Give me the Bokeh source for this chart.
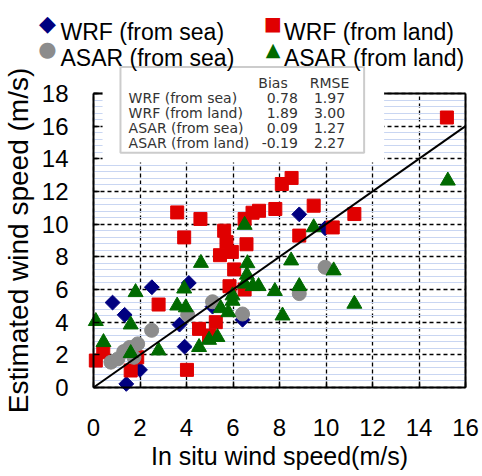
import numpy as np
from bokeh.plotting import figure
from bokeh.models import Range1d, FixedTicker, Label, BoxAnnotation, LinearAxis
from bokeh.embed import file_html
from bokeh.resources import INLINE

# ---------------- data ----------------
wrf_sea_x = [0.82, 1.34, 1.41, 2.00, 2.51, 3.70, 3.92, 4.10, 5.12, 6.41, 8.85, 9.96]
wrf_sea_y = [5.20, 4.45, 0.22, 1.08, 6.14, 3.85, 2.50, 6.40, 4.95, 4.15, 10.60, 9.75]

wrf_land_x = [0.10, 0.42, 1.60, 1.88, 2.80, 3.60, 3.90, 4.02, 4.60, 4.54, 4.97, 5.26,
              5.44, 5.62, 5.72, 5.95, 6.05, 5.85, 6.50, 6.58, 6.50, 6.84, 7.12, 7.82,
              8.10, 8.52, 8.85, 9.47, 10.29, 11.22, 15.20]
wrf_land_y = [1.65, 2.16, 1.04, 1.85, 5.08, 10.72, 9.19, 1.08, 10.32, 3.59, 3.18, 4.00,
              8.10, 9.60, 8.90, 8.30, 7.23, 6.20, 10.32, 8.77, 6.00, 10.70, 10.82, 10.93,
              12.46, 12.83, 9.30, 11.13, 9.80, 10.62, 16.53]

asar_sea_x = [0.75, 1.05, 1.30, 1.55, 1.74, 1.90, 2.50, 4.05, 5.12, 6.41, 8.85, 9.96]
asar_sea_y = [1.55, 1.75, 2.20, 2.45, 1.85, 2.67, 3.50, 4.45, 5.25, 4.50, 5.75, 7.36]

asar_land_x = [0.10, 0.43, 1.60, 1.60, 1.81, 2.80, 3.60, 3.90, 3.97, 4.54, 4.62, 4.97,
               5.33, 5.47, 5.80, 5.98, 5.98, 6.50, 6.62, 6.60, 6.50, 6.85, 7.10, 7.80,
               8.13, 8.50, 8.85, 9.47, 10.33, 11.22, 15.24]
asar_land_y = [4.06, 2.77, 2.10, 3.85, 5.83, 2.26, 5.01, 6.05, 4.90, 2.47, 7.62, 2.91,
               3.08, 4.85, 4.60, 5.30, 5.63, 9.95, 7.60, 6.90, 6.35, 6.20, 6.20, 5.90,
               4.40, 7.77, 6.20, 9.80, 7.16, 5.12, 12.66]

series_names = ["WRF (from sea)", "WRF (from land)", "ASAR (from sea)", "ASAR (from land)"]
table_bias = [0.78, 1.89, 0.09, -0.19]
table_rmse = [1.97, 3.00, 1.27, 2.27]

x_ticks = [0, 2, 4, 6, 8, 10, 12, 14, 16]
y_ticks = [0, 2, 4, 6, 8, 10, 12, 14, 16, 18]
one_to_one = [0, 16]
x_lim = (0, 16)
y_lim = (0, 18)

# ---------------- styles ----------------
NAVY = "#000080"
RED = "#e00000"
GRAY = "#8c8c8c"
GREEN = "#006a00"
FONT = "Liberation Sans"

W, H = 482, 476
# plot area (pixels) inside the canvas: left 93, right 465, top 93, bottom 387.
# The frame covers the whole canvas; axes are pinned at x=0 / y=0 so that the
# legend and the table above / left of the plot area are not clipped.
PX_X = (465 - 93) / (x_lim[1] - x_lim[0])
PX_Y = (387 - 93) / (y_lim[1] - y_lim[0])
X_START = x_lim[0] - 93 / PX_X
X_END = x_lim[1] + (W - 465) / PX_X
Y_END = y_lim[1] + 93 / PX_Y
Y_START = y_lim[0] - (H - 387) / PX_Y

p = figure(width=W, height=H, output_backend="svg", toolbar_location=None,
           x_range=Range1d(X_START, X_END), y_range=Range1d(Y_START, Y_END),
           min_border=0, min_border_left=0, min_border_right=0, min_border_top=0,
           min_border_bottom=0, background_fill_color="white")

p.outline_line_color = None

y_minor = [round(i * 0.4, 2) for i in range(0, 46) if i % 5 != 0]
p.xaxis.ticker = FixedTicker(ticks=x_ticks)
p.yaxis.ticker = FixedTicker(ticks=y_ticks, minor_ticks=y_minor)
p.xaxis.bounds = x_lim
p.yaxis.bounds = y_lim
p.xaxis.fixed_location = y_lim[0]
p.yaxis.fixed_location = x_lim[0]

for ax in (p.xaxis[0], p.yaxis[0]):
    ax.axis_line_width = 2
    ax.axis_line_color = "black"
    ax.major_tick_in = 6
    ax.major_tick_out = 0
    ax.major_tick_line_width = 1.5
    ax.minor_tick_line_color = None
    ax.major_label_text_font = FONT
    ax.major_label_text_font_size = "24px"
    ax.major_label_text_color = "black"
    ax.axis_label_text_font = FONT
    ax.axis_label_text_font_style = "normal"
    ax.axis_label_text_color = "black"

p.xaxis.axis_label = "In situ wind speed(m/s)"
p.xaxis.axis_label_text_font_size = "25px"
p.xaxis.major_label_standoff = 31
p.xaxis.axis_label_standoff = 3
p.yaxis.axis_label = "Estimated wind speed (m/s)"
p.yaxis.axis_label_text_font_size = "28px"
p.yaxis.major_label_standoff = 21
p.yaxis.axis_label_standoff = 5

# right border as a bare axis line
right_ax = LinearAxis(bounds=y_lim, fixed_location=x_lim[1], ticker=FixedTicker(ticks=[]),
                      axis_line_width=2, axis_line_color="black", major_tick_in=0,
                      major_tick_out=0, minor_tick_in=0, minor_tick_out=0,
                      major_label_standoff=0, major_label_text_font_size="0px")
p.add_layout(right_ax, "right")

p.xgrid.grid_line_color = "black"
p.xgrid.grid_line_dash = "4 3"
p.xgrid.grid_line_width = 1.3
p.xgrid.bounds = x_lim
p.xgrid.cross_bounds = y_lim
p.ygrid.grid_line_color = "black"
p.ygrid.grid_line_dash = "4 3"
p.ygrid.grid_line_width = 1.3
p.ygrid.bounds = y_lim
p.ygrid.cross_bounds = x_lim
p.ygrid.minor_grid_line_color = "#c9d6f2"
p.ygrid.minor_grid_line_width = 1

# top border
p.line(list(x_lim), [y_lim[1], y_lim[1]], line_color="black", line_width=2)

# ---------------- series ----------------
p.scatter(wrf_sea_x, wrf_sea_y, marker="square", angle=np.pi / 4, size=10.5,
          fill_color=NAVY, line_color=NAVY)
p.scatter(wrf_land_x, wrf_land_y, marker="square", size=13,
          fill_color=RED, line_color=RED)
p.scatter(asar_sea_x, asar_sea_y, marker="circle", size=14,
          fill_color=GRAY, line_color=GRAY)
p.scatter(asar_land_x, asar_land_y, marker="triangle", size=15,
          fill_color=GREEN, line_color=GREEN)
p.line(one_to_one, one_to_one, line_color="black", line_width=2)

# ---------------- statistics table ----------------
p.add_layout(BoxAnnotation(left=0.39, right=12.5, bottom=13.78, top=18.3,
                           fill_color="white", fill_alpha=1, line_color=None,
                           level="annotation"))
p.add_layout(BoxAnnotation(left=1.16, right=11.64, bottom=14.37, top=19.63,
                           fill_color="white", fill_alpha=1, line_color="#555555",
                           line_width=2, level="annotation"))

TFONT = "DejaVu Sans"
TCOL = "#333333"
row_y = [17.75, 16.82, 15.89, 14.97]
p.add_layout(Label(x=7.72, y=18.67, text="Bias", text_font=TFONT, text_font_size="14px",
                   text_align="center", text_baseline="alphabetic", text_color=TCOL))
p.add_layout(Label(x=10.15, y=18.67, text="RMSE", text_font=TFONT, text_font_size="14px",
                   text_align="center", text_baseline="alphabetic", text_color=TCOL))
for name, b, r, yy in zip(series_names, table_bias, table_rmse, row_y):
    p.add_layout(Label(x=1.51, y=yy, text=name, text_font=TFONT, text_font_size="14px",
                       text_align="left", text_baseline="alphabetic", text_color=TCOL))
    p.add_layout(Label(x=8.79, y=yy, text=f"{b:.2f}", text_font=TFONT, text_font_size="14px",
                       text_align="right", text_baseline="alphabetic", text_color=TCOL))
    p.add_layout(Label(x=10.82, y=yy, text=f"{r:.2f}", text_font=TFONT, text_font_size="14px",
                       text_align="right", text_baseline="alphabetic", text_color=TCOL))

# ---------------- legend (two rows, two columns) ----------------
legend_marks = ["\u25C6", "\u25A0", "\u25CF", "\u25B2"]
legend_cols = [NAVY, RED, GRAY, GREEN]
legend_sizes = ["22px", "19px", "21px", "19px"]
legend_mx = [-1.98, 7.72, -1.98, 7.72]
legend_tx = [-1.42, 8.19, -1.42, 8.19]
legend_my = [22.29, 22.29, 20.72, 20.72]
legend_ty = [21.79, 21.79, 20.20, 20.20]
for name, mk, col, sz, mx, tx, my, ty in zip(series_names, legend_marks, legend_cols,
                                              legend_sizes, legend_mx, legend_tx,
                                              legend_my, legend_ty):
    p.add_layout(Label(x=mx, y=my, text=mk, text_font="DejaVu Sans", text_font_size=sz,
                       text_align="center", text_baseline="middle", text_color=col))
    p.add_layout(Label(x=tx, y=ty, text=name, text_font=FONT, text_font_size="23px",
                       text_align="left", text_baseline="alphabetic", text_color="black"))

open("out.html", "w").write(file_html(p, INLINE))
